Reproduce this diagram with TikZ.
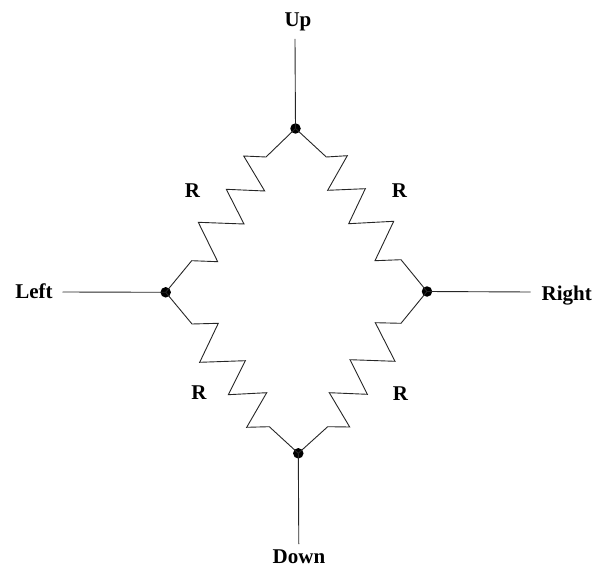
\documentclass[tikz,border=0pt]{standalone}
\usepackage{fontspec}
\setmainfont{Liberation Serif}
\tikzset{
  junction/.style={circle,fill=black,inner sep=0pt,minimum size=10.5pt},
  wire/.style={draw=black!85,line width=0.9pt,line join=miter},
  lbl/.style={font=\fontsize{21}{23}\selectfont\bfseries,inner sep=0pt,text=black,anchor=base}
}
\begin{document}
\begin{tikzpicture}[x=1pt,y=-1pt]
\useasboundingbox (0,0) rectangle (600,567);
\node[junction] (up) at (295.5,128.5) {};
\node[junction] (left) at (165.7,292.3) {};
\node[junction] (right) at (427,291.5) {};
\node[junction] (down) at (298.3,453.3) {};
\node[lbl] (lup) at (298,27) {Up};
\node[lbl] (lleft) at (34,298) {Left};
\node[lbl] (lright) at (566.7,300) {Right};
\node[lbl] (ldown) at (299,563) {Down};
\node[lbl] (r1) at (192.5,197.3) {R};
\node[lbl] (r2) at (399.5,197.7) {R};
\node[lbl] (r3) at (199,399) {R};
\node[lbl] (r4) at (400.5,400.7) {R};
\coordinate (eup) at (295,39);
\coordinate (eleft) at (62.5,292);
\coordinate (eright) at (530.5,292);
\coordinate (edown) at (298.8,544);
\draw[wire] (eup) -- (up.center);
\draw[wire] (eleft) -- (left.center);
\draw[wire] (eright) -- (right.center);
\draw[wire] (edown) -- (down.center);
\draw[wire] (up.center) -- (266,157) -- (243.7,156) -- (264.7,191) -- (226.3,189.3) -- (244,224) -- (198.3,222.3) -- (217.7,261.7) -- (191.7,260.7) -- (left.center);
\draw[wire] (up.center) -- (326.3,157) -- (347.3,155.7) -- (327.7,190.3) -- (365.3,188.7) -- (348.7,223.7) -- (393.7,221.3) -- (375,260.7) -- (401,259.7) -- (right.center);
\draw[wire] (left.center) -- (192,324) -- (218.3,323.3) -- (199.7,362.3) -- (245.3,360.7) -- (228.3,394.7) -- (266.7,392.7) -- (246.7,427.3) -- (269.3,426.7) -- (down.center);
\draw[wire] (right.center) -- (401,323.3) -- (375.3,322.7) -- (395,361.3) -- (350,359.7) -- (367.3,394.3) -- (329.3,392.7) -- (349.7,427) -- (327.7,426.7) -- (down.center);
\end{tikzpicture}
\end{document}
